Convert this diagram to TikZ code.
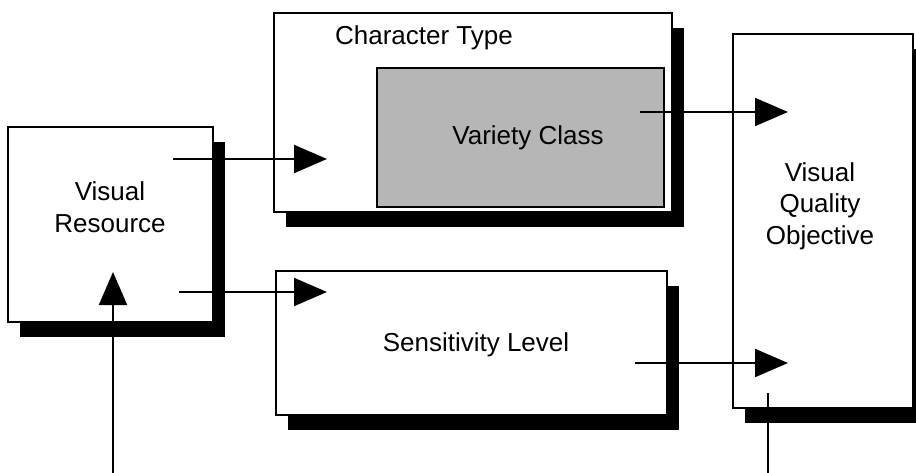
\documentclass[tikz,border=0pt]{standalone}
\usepackage{fontspec}
\setmainfont{Liberation Sans}
\usetikzlibrary{arrows.meta,shadows}
\begin{document}
\begin{tikzpicture}[x=1pt,y=-1pt,
  box/.style={draw=black,line width=2pt,fill=white,inner sep=0pt,
    drop shadow={shadow xshift=12pt,shadow yshift=-15pt,fill=black,opacity=1}},
  innerbox/.style={draw=black,line width=2pt,fill={rgb,255:red,182;green,182;blue,182},inner sep=0pt},
  lbl/.style={font=\fontsize{26}{31.5}\selectfont,align=center,inner sep=0pt},
  conn/.style={line width=2pt,-{Triangle[length=33pt,width=28pt]}},
  feed/.style={line width=2pt}]
\useasboundingbox[fill=white] (0,0) rectangle (916,473);
% boxes
\node[box,minimum width=205pt,minimum height=195pt] (vr) at (110.5,224.5) {};
\node[box,minimum width=398pt,minimum height=199pt] (ct) at (473,112.5) {};
\node[innerbox,minimum width=287pt,minimum height=139pt] (vc) at (520.5,137.5) {};
\node[box,minimum width=391pt,minimum height=144pt] (sl) at (471.5,343) {};
\node[box,minimum width=180pt,minimum height=374pt] (vqo) at (823,221) {};
% labels
\node[lbl] (vrt) at (110,207) {Visual\\Resource};
\node[lbl] (ctt) at (424,38) {Character Type};
\node[lbl] (vct) at (528,138) {Variety Class};
\node[lbl] (slt) at (476,345) {Sensitivity Level};
\node[lbl] (vqot) at (820,206) {Visual\\Quality\\Objective};
% connector end points
\coordinate (a1s) at (173,159);
\coordinate (a1e) at (327,159);
\coordinate (a2s) at (179,292);
\coordinate (a2e) at (327,292);
\coordinate (a3s) at (640,112);
\coordinate (a3e) at (788,112);
\coordinate (a4s) at (635,363);
\coordinate (a4e) at (788,363);
\coordinate (fbs) at (113,473);
\coordinate (fbe) at (113,272);
\coordinate (fos) at (768,393);
\coordinate (foe) at (768,473);
% connectors
\draw[conn] (a1s) -- (a1e);
\draw[conn] (a2s) -- (a2e);
\draw[conn] (a3s) -- (a3e);
\draw[conn] (a4s) -- (a4e);
\draw[conn] (fbs) -- (fbe);
\draw[feed] (fos) -- (foe);
\end{tikzpicture}
\end{document}
